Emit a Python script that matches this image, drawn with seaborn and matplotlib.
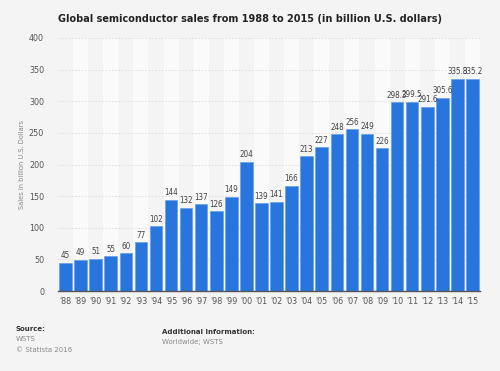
import numpy as np
import pandas as pd
import matplotlib
matplotlib.use("Agg")
import matplotlib.pyplot as plt
import seaborn as sns

years = ["'88", "'89", "'90", "'91", "'92", "'93", "'94", "'95", "'96", "'97",
         "'98", "'99", "'00", "'01", "'02", "'03", "'04", "'05", "'06", "'07",
         "'08", "'09", "'10", "'11", "'12", "'13", "'14", "'15"]
sales = [45, 49, 51, 55, 60, 77, 102, 144, 132, 137, 126, 149, 204, 139, 141,
         166, 213, 227, 248, 256, 249, 226, 298.3, 299.5, 291.6, 305.6, 335.8, 335.2]
labels = ["45", "49", "51", "55", "60", "77", "102", "144", "132", "137", "126",
          "149", "204", "139", "141", "166", "213", "227", "248", "256", "249",
          "226", "298.3", "299.5", "291.6", "305.6", "335.8", "335.2"]
y_ticks = [0, 50, 100, 150, 200, 250, 300, 350, 400]

df = pd.DataFrame({"year": years, "sales": sales})

sns.set_style("white")
plt.rcParams["font.family"] = ["DejaVu Sans"]

bg = "#f4f4f4"
fig = plt.figure(figsize=(5, 3.71), dpi=100, facecolor=bg)
ax = fig.add_axes([0.116, 0.2156, 0.844, 0.682])
ax.set_facecolor(bg)

# alternating column stripes
for i in range(1, len(years), 2):
    ax.axvspan(i - 0.5, i + 0.5, color="#fafafa", zorder=0, lw=0)

for t in y_ticks[1:]:
    ax.axhline(t, color="#dddddd", lw=0.6, ls=(0, (2, 2)), zorder=1)

sns.barplot(data=df, x="year", y="sales", color="#2876dd", saturation=1,
            width=0.83, edgecolor="#5a9be8", linewidth=0.4, ax=ax, zorder=2)

for i, (v, lab) in enumerate(zip(sales, labels)):
    ax.text(i, v + 4, lab, ha="center", va="bottom", fontsize=5.8,
            color="#444444", zorder=3, fontstretch="condensed")

ax.set_xlim(-0.5, len(years) - 0.5)
ax.set_ylim(0, 400)
ax.set_yticks(y_ticks)
ax.tick_params(axis="both", length=0, labelsize=5.8, labelcolor="#555555")
ax.tick_params(axis="y", pad=10)
ax.tick_params(axis="x", pad=4)
ax.set_xlabel("")
ax.set_ylabel("Sales in billion U.S. Dollars", fontsize=4.8, color="#888888",
              labelpad=3)
for s in ["top", "right", "left"]:
    ax.spines[s].set_visible(False)
ax.spines["bottom"].set_color("#555555")
ax.spines["bottom"].set_linewidth(1)

fig.text(0.5, 0.948, "Global semiconductor sales from 1988 to 2015 (in billion U.S. dollars)",
         ha="center", va="center", fontsize=7.0, fontweight="bold", color="#222222")

fig.text(0.032, 0.108, "Source:", fontsize=5, fontweight="bold", color="#333333")
fig.text(0.032, 0.080, "WSTS", fontsize=5, color="#888888")
fig.text(0.032, 0.052, "© Statista 2016", fontsize=5, color="#888888")
fig.text(0.324, 0.100, "Additional Information:", fontsize=5, fontweight="bold",
         color="#333333")
fig.text(0.324, 0.073, "Worldwide; WSTS", fontsize=5, color="#888888")

fig.savefig("out.png", dpi=100, facecolor=bg)
